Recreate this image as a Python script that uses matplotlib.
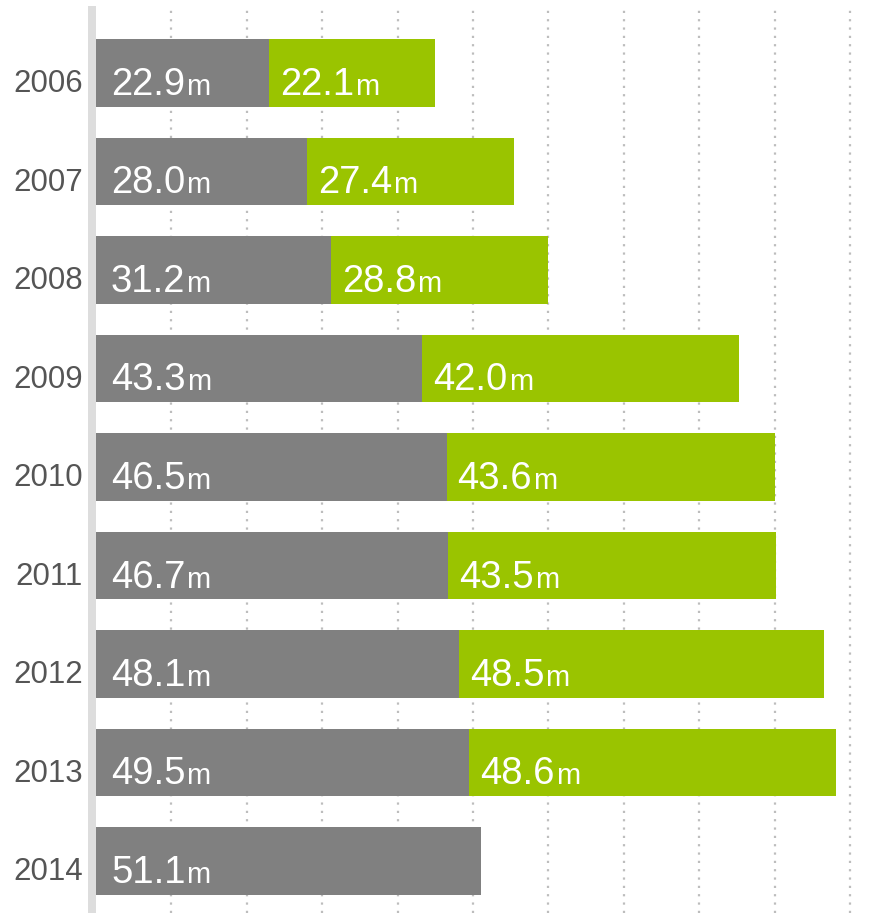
import numpy as np
import matplotlib.pyplot as plt
import matplotlib.transforms as mtrans

years = ['2006', '2007', '2008', '2009', '2010', '2011', '2012', '2013', '2014']
grey_vals = [22.9, 28.0, 31.2, 43.3, 46.5, 46.7, 48.1, 49.5, 51.1]
green_vals = [22.1, 27.4, 28.8, 42.0, 43.6, 43.5, 48.5, 48.6, None]
unit = 'm'

c_grey = '#808080'
c_green = '#9AC400'
c_year = '#555555'
c_axis = '#dddddd'
c_grid = '#bdbdbd'

plt.rcParams['font.family'] = ['Liberation Sans', 'DejaVu Sans']

fig_w, fig_h, dpi = 894, 913, 100
fig = plt.figure(figsize=(fig_w / dpi, fig_h / dpi), dpi=dpi, facecolor='w')

px_per_unit = 7.54   # horizontal scale
row_px = 98.5        # vertical distance between bars
x0_px = 96           # where value 0 sits
ax_left_px = 88
ax_top_px = 10

ax = fig.add_axes([ax_left_px / fig_w, 0, 1 - ax_left_px / fig_w, (fig_h - ax_top_px) / fig_h])
ax.set_xlim(-(x0_px - ax_left_px) / px_per_unit, (fig_w - x0_px) / px_per_unit)
ax.set_ylim(8 + (fig_h - 861) / row_px, -(73 - ax_top_px) / row_px)
ax.axis('off')

# dotted gridlines
for gx in np.arange(10, 101, 10):
    ax.axvline(gx, color=c_grid, lw=1.6, dashes=(1, 2.75), zorder=1)

# left axis line
ax.axvline(-(x0_px - ax_left_px) / px_per_unit / 2, color=c_axis,
           lw=(x0_px - ax_left_px) * 72 / dpi, zorder=3, clip_on=False)

ypos = np.arange(len(years))
bar_h = 0.69
ax.barh(ypos, grey_vals, height=bar_h, color=c_grey, zorder=2)
g_vals = [v if v is not None else 0 for v in green_vals]
ax.barh(ypos, g_vals, left=grey_vals, height=bar_h, color=c_green, zorder=2)

fig.canvas.draw()
renderer = fig.canvas.get_renderer()


def value_label(x_px, y, num):
    tr = mtrans.blended_transform_factory(mtrans.IdentityTransform(), ax.transData)
    t = ax.text(x_px, y, num, transform=tr, color='white', fontsize=27.5,
                va='baseline', ha='left', zorder=4)
    bb = t.get_window_extent(renderer)
    ax.text(bb.x1 + 1, y, unit, transform=tr, color='white', fontsize=21,
            va='baseline', ha='left', zorder=4)


for i, yr in enumerate(years):
    ax.text(-13 / px_per_unit, i + 19.5 / row_px, yr, color=c_year, fontsize=22.5,
            ha='right', va='baseline', clip_on=False)
    base_y = i + 22 / row_px
    zero_px = ax.transData.transform((0, i))[0]
    value_label(zero_px + 15, base_y, '%.1f' % grey_vals[i])
    if green_vals[i] is not None:
        g_px = ax.transData.transform((grey_vals[i], i))[0]
        value_label(g_px + 11, base_y, '%.1f' % green_vals[i])

fig.savefig('out.png', dpi=dpi, facecolor='w')
